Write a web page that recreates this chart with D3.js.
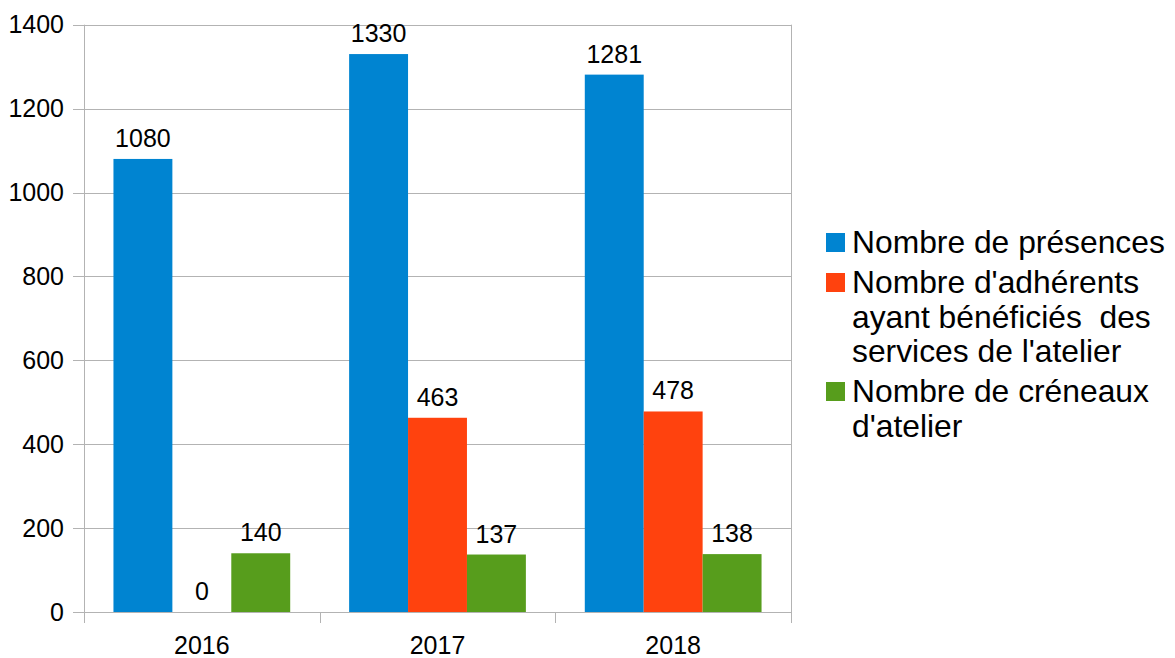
<!DOCTYPE html>
<html>
<head>
<meta charset="utf-8">
<title>Atelier</title>
<script src="https://d3js.org/d3.v7.min.js"></script>
<style>
  body { margin: 0; background: #fff; }
  text { font-family: "Liberation Sans", Arial, sans-serif; fill: #000; }
  .grid line { stroke: #b3b3b3; }
  .legend text { white-space: pre; }
</style>
</head>
<body>
<svg width="1175" height="658"></svg>
<script>
// data
var years = ["2016", "2017", "2018"];
var seriesNames = ["Nombre de présences", "Nombre d'adhérents", "Nombre de créneaux"];
var presences = [1080, 1330, 1281];
var adherents = [0, 463, 478];
var creneaux = [140, 137, 138];
var yTicks = [0, 200, 400, 600, 800, 1000, 1200, 1400];
var legendLines = [
  ["Nombre de présences"],
  ["Nombre d'adhérents", "ayant bénéficiés  des", "services de l'atelier"],
  ["Nombre de créneaux", "d'atelier"]
];
var colors = ["#0084d1", "#ff420e", "#579d1c"];

var series = [presences, adherents, creneaux];

var svg = d3.select("svg");
var plotL = 84, plotR = 791, plotT = 24.7, plotB = 612;

var x = d3.scaleBand().domain(years).range([plotL, plotR]).padding(0);
var inner = d3.scaleBand().domain(d3.range(series.length))
  .range([0, x.bandwidth()]).paddingInner(0).paddingOuter(0.5);
var y = d3.scaleLinear().domain([0, 1400]).range([plotB, plotT]);

// horizontal gridlines
svg.append("g").attr("class", "grid")
  .selectAll("line").data(yTicks).enter().append("line")
  .attr("x1", plotL - 11).attr("x2", plotR)
  .attr("y1", function(d) { return Math.round(y(d)) + 0.5; })
  .attr("y2", function(d) { return Math.round(y(d)) + 0.5; });

// y axis line + right border
svg.append("line").attr("x1", plotL + 0.5).attr("x2", plotL + 0.5)
  .attr("y1", y(1400)).attr("y2", plotB + 11).attr("stroke", "#b3b3b3");
svg.append("line").attr("x1", plotR + 0.5).attr("x2", plotR + 0.5)
  .attr("y1", y(1400)).attr("y2", plotB + 11).attr("stroke", "#b3b3b3");

// category ticks
var bounds = years.map(function(d) { return x(d); }).concat([plotR]);
svg.append("g").selectAll("line").data(bounds).enter().append("line")
  .attr("x1", function(d) { return Math.round(d) + 0.5; })
  .attr("x2", function(d) { return Math.round(d) + 0.5; })
  .attr("y1", plotB).attr("y2", plotB + 11)
  .attr("stroke", "#b3b3b3");

// y labels
svg.append("g").selectAll("text").data(yTicks).enter().append("text")
  .attr("x", 64).attr("y", function(d) { return y(d); })
  .attr("dy", "0.35em").attr("text-anchor", "end")
  .style("font-size", "25px")
  .text(function(d) { return d; });

// x labels
svg.append("g").selectAll("text").data(years).enter().append("text")
  .attr("x", function(d) { return x(d) + x.bandwidth() / 2; })
  .attr("y", 654).attr("text-anchor", "middle")
  .style("font-size", "25px")
  .text(function(d) { return d; });

// bars
series.forEach(function(vals, si) {
  var g = svg.append("g");
  g.selectAll("rect").data(vals).enter().append("rect")
    .attr("x", function(d, i) { return x(years[i]) + inner(si); })
    .attr("y", function(d) { return y(d); })
    .attr("width", inner.bandwidth())
    .attr("height", function(d) { return y(0) - y(d); })
    .attr("fill", colors[si]);
  g.selectAll("text").data(vals).enter().append("text")
    .attr("x", function(d, i) { return x(years[i]) + inner(si) + inner.bandwidth() / 2; })
    .attr("y", function(d) { return y(d) - 12; })
    .attr("text-anchor", "middle")
    .style("font-size", "25px")
    .text(function(d) { return d; });
});

// legend
var legend = svg.append("g").attr("class", "legend");
var baseY = 253, lineH = 34.5, gapH = 40;
legendLines.forEach(function(lines, si) {
  legend.append("rect")
    .attr("x", 826).attr("y", baseY - 20)
    .attr("width", 19).attr("height", 19)
    .attr("fill", colors[si]);
  lines.forEach(function(t, li) {
    legend.append("text")
      .attr("x", 852).attr("y", baseY + li * lineH)
      .style("font-size", "31.8px")
      .text(t);
  });
  baseY += (lines.length - 1) * lineH + gapH;
});
</script>
</body>
</html>
